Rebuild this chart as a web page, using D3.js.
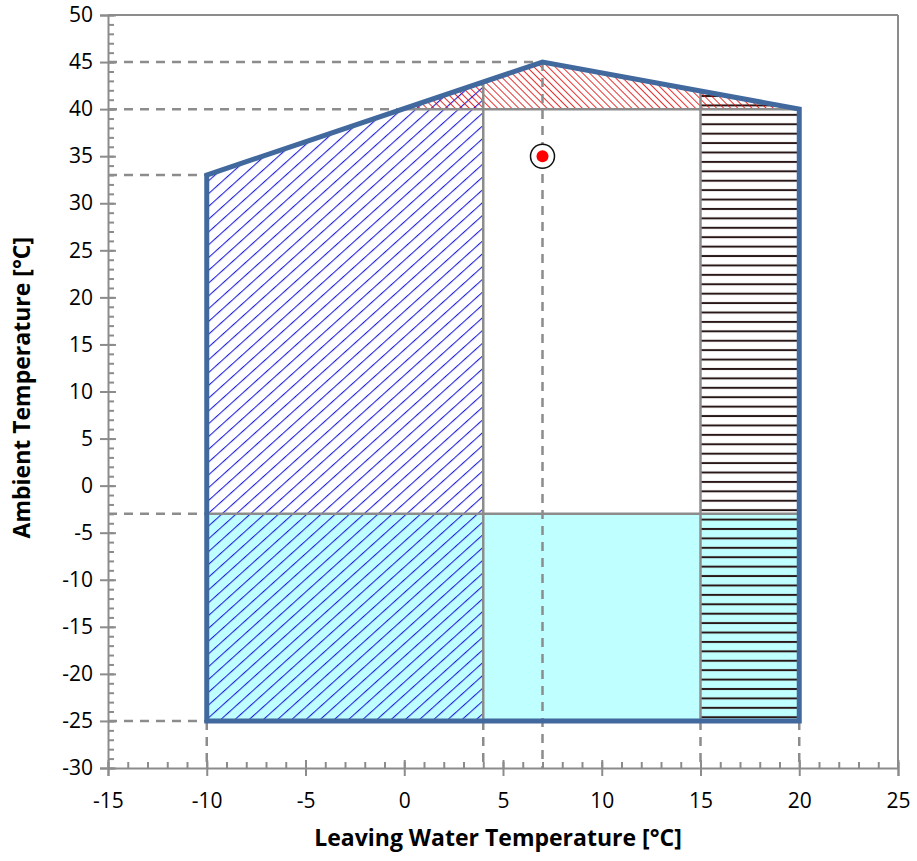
<!DOCTYPE html>
<html>
<head>
<meta charset="utf-8">
<script src="https://cdn.jsdelivr.net/npm/d3@7"></script>
<style>
  body { margin: 0; background: #fff; }
  text { font-family: "Open Sans", sans-serif; fill: #000; }
</style>
</head>
<body>
<script>
// chart data
var xTicks = [-15, -10, -5, 0, 5, 10, 15, 20, 25];
var yTicks = [-30, -25, -20, -15, -10, -5, 0, 5, 10, 15, 20, 25, 30, 35, 40, 45, 50];
var envelope = [[-10, -25], [-10, 33], [7, 45], [20, 40], [20, -25]];
var zoneX = [-10, 4, 15, 20];       // vertical zone borders
var zoneY = [-25, -3, 40];          // horizontal zone borders
var designPoint = [7, 35];
// dashed guide lines: [x1, y1, x2, y2]
var guides = [
  [-15, 45, 7, 45], [-15, 40, 0, 40], [-15, 33, -10, 33], [-15, -3, -10, -3], [-15, -25, -10, -25],
  [-10, -25, -10, -30], [4, -25, 4, -30], [7, 45, 7, -30], [15, -25, 15, -30], [20, -25, 20, -30]
];

var margin = {top: 15, right: 19, bottom: 93, left: 108},
    width = 917 - margin.left - margin.right,
    height = 861 - margin.top - margin.bottom;

var svg = d3.select("body").append("svg")
    .attr("width", 917)
    .attr("height", 861);

var defs = svg.append("defs");

var g = svg.append("g")
    .attr("transform", "translate(" + margin.left + "," + margin.top + ")");

var x = d3.scaleLinear().domain([-15, 25]).range([0, width]);
var y = d3.scaleLinear().domain([-30, 50]).range([height, 0]);

// top of envelope at a given x (linear between vertices)
function topAt(xv) {
  var top = envelope.slice(1, 4);
  for (var i = 0; i < top.length - 1; i++) {
    var a = top[i], b = top[i + 1];
    if (xv >= a[0] && xv <= b[0]) return a[1] + (b[1] - a[1]) * (xv - a[0]) / (b[0] - a[0]);
  }
  return top[top.length - 1][1];
}

// hatch patterns
var pBlue = defs.append("pattern").attr("id", "hBlue")
    .attr("patternUnits", "userSpaceOnUse").attr("width", 9.5).attr("height", 9.5)
    .attr("patternTransform", "rotate(-42)");
pBlue.append("line").attr("x1", 0).attr("y1", 0).attr("x2", 9.5).attr("y2", 0)
    .attr("stroke", "#2222dd").attr("stroke-width", 2.2);

var pRed = defs.append("pattern").attr("id", "hRed")
    .attr("patternUnits", "userSpaceOnUse").attr("width", 5).attr("height", 5)
    .attr("patternTransform", "rotate(45)");
pRed.append("line").attr("x1", 0).attr("y1", 0).attr("x2", 5).attr("y2", 0)
    .attr("stroke", "#e00000").attr("stroke-width", 1.6);

var unit = y(0) - y(1);
var pBlack = defs.append("pattern").attr("id", "hBlack")
    .attr("patternUnits", "userSpaceOnUse").attr("width", 10).attr("height", unit)
    .attr("y", y(-25) + 1);
pBlack.append("line").attr("x1", 0).attr("y1", unit / 2).attr("x2", 10).attr("y2", unit / 2)
    .attr("stroke", "#2a1818").attr("stroke-width", 2);

defs.append("clipPath").attr("id", "envClip")
  .append("path")
    .attr("d", d3.line().x(function(d) { return x(d[0]); }).y(function(d) { return y(d[1]); })(envelope) + "Z");

var zones = g.append("g").attr("clip-path", "url(#envClip)");

// cold zone
zones.append("rect")
    .attr("x", x(zoneX[0])).attr("y", y(zoneY[1]))
    .attr("width", x(zoneX[3]) - x(zoneX[0])).attr("height", y(zoneY[0]) - y(zoneY[1]))
    .attr("fill", "#c0ffff");

// left zone (blue hatch)
zones.append("rect")
    .attr("x", x(zoneX[0])).attr("y", 0)
    .attr("width", x(zoneX[1]) - x(zoneX[0])).attr("height", y(zoneY[0]))
    .attr("fill", "url(#hBlue)");

// right zone (horizontal hatch)
zones.append("rect")
    .attr("x", x(zoneX[2])).attr("y", 0)
    .attr("width", x(zoneX[3]) - x(zoneX[2])).attr("height", y(zoneY[0]))
    .attr("fill", "url(#hBlack)");

// high ambient zone (red hatch)
zones.append("rect")
    .attr("x", x(zoneX[0])).attr("y", 0)
    .attr("width", x(zoneX[3]) - x(zoneX[0])).attr("height", y(zoneY[2]))
    .attr("fill", "url(#hRed)");

// frame
g.append("line").attr("x1", 0).attr("x2", width).attr("y1", 0).attr("y2", 0)
    .attr("stroke", "#8c8c8c").attr("stroke-width", 2);
g.append("line").attr("x1", width).attr("x2", width).attr("y1", 0).attr("y2", height)
    .attr("stroke", "#8c8c8c").attr("stroke-width", 2);

// axes
function styleAxis(sel) {
  sel.selectAll("path, line").attr("stroke", "#8c8c8c").attr("stroke-width", 2);
  sel.selectAll("text").style("font-size", "21px").style("font-family", "'Open Sans', sans-serif").attr("fill", "#000");
}
var fmt = function(d) { return String(d); };

g.append("g")
    .attr("transform", "translate(0," + height + ")")
    .call(d3.axisBottom(x).tickValues(d3.range(-15, 26, 1)).tickSize(-6).tickFormat(""))
    .call(function(s) { s.select(".domain").remove(); })
    .call(styleAxis);
g.append("g")
    .call(d3.axisLeft(y).tickValues(d3.range(-30, 51, 1)).tickSize(-6).tickFormat(""))
    .call(function(s) { s.select(".domain").remove(); })
    .call(styleAxis);

var xAxis = g.append("g")
    .attr("transform", "translate(0," + height + ")")
    .call(d3.axisBottom(x).tickValues(xTicks).tickSize(8).tickPadding(17).tickFormat(fmt))
    .call(styleAxis);
xAxis.selectAll(".tick line").attr("y1", -8);

var yAxis = g.append("g")
    .call(d3.axisLeft(y).tickValues(yTicks).tickSize(8).tickPadding(7).tickFormat(fmt))
    .call(styleAxis);
yAxis.selectAll(".tick line").attr("x1", 8);

// zone borders (solid gray)
var gray = g.append("g").attr("stroke", "#8c8c8c").attr("stroke-width", 2.5);
gray.append("line").attr("x1", x(zoneX[1])).attr("x2", x(zoneX[1])).attr("y1", y(zoneY[0])).attr("y2", y(topAt(zoneX[1])));
gray.append("line").attr("x1", x(zoneX[2])).attr("x2", x(zoneX[2])).attr("y1", y(zoneY[0])).attr("y2", y(topAt(zoneX[2])));
gray.append("line").attr("x1", x(0)).attr("x2", x(zoneX[3])).attr("y1", y(zoneY[2])).attr("y2", y(zoneY[2]));
gray.append("line").attr("x1", x(zoneX[0])).attr("x2", x(zoneX[3])).attr("y1", y(zoneY[1])).attr("y2", y(zoneY[1]));

// dashed guides
g.append("g").selectAll("line")
  .data(guides)
  .enter().append("line")
    .attr("x1", function(d) { return x(d[0]); })
    .attr("y1", function(d) { return y(d[1]); })
    .attr("x2", function(d) { return x(d[2]); })
    .attr("y2", function(d) { return y(d[3]); })
    .attr("stroke", "#8c8c8c").attr("stroke-width", 2.5)
    .attr("stroke-dasharray", "9,7");

// envelope
g.append("path")
    .attr("d", d3.line().x(function(d) { return x(d[0]); }).y(function(d) { return y(d[1]); })(envelope) + "Z")
    .attr("fill", "none")
    .attr("stroke", "#41699e")
    .attr("stroke-width", 5)
    .attr("stroke-linejoin", "miter");

// design point
g.append("circle").attr("cx", x(designPoint[0])).attr("cy", y(designPoint[1])).attr("r", 12)
    .attr("fill", "#fff").attr("stroke", "#111").attr("stroke-width", 1.5);
g.append("circle").attr("cx", x(designPoint[0])).attr("cy", y(designPoint[1])).attr("r", 6)
    .attr("fill", "#ff0000");

// axis titles
svg.append("text")
    .attr("x", margin.left + width / 2 - 5).attr("y", 846)
    .attr("text-anchor", "middle")
    .style("font-size", "23px").style("font-weight", "bold")
    .text("Leaving Water Temperature [°C]");
svg.append("text")
    .attr("transform", "translate(30," + (margin.top + y(10.4)) + ") rotate(-90)")
    .attr("text-anchor", "middle")
    .style("font-size", "23px").style("font-weight", "bold")
    .text("Ambient Temperature [°C]");
</script>
</body>
</html>
